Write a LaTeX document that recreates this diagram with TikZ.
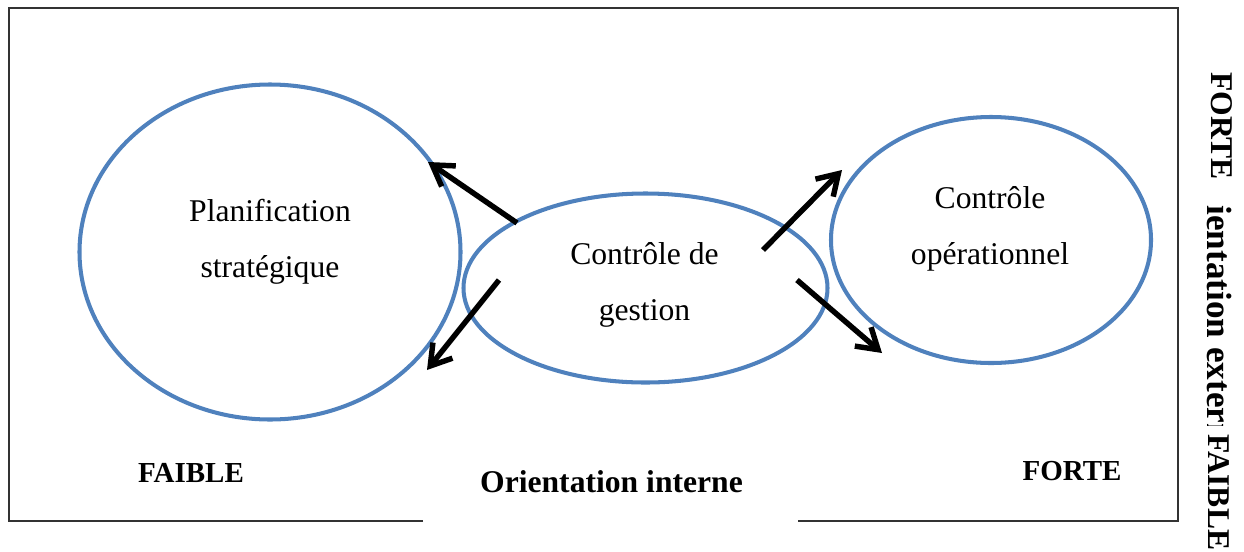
\documentclass[tikz,border=0pt]{standalone}
\usepackage{fontspec}
\setmainfont{Liberation Serif}
\usepackage{tikz}
\usetikzlibrary{shapes,arrows.meta}
\definecolor{officeblue}{HTML}{4F81BD}

\begin{document}
\begin{tikzpicture}
    % Define block styles
    \tikzstyle{zone} = [ellipse, draw=officeblue, line width=2.3pt, inner sep=0pt]
    \tikzstyle{intext} = [align=center, font=\fontsize{18}{32}\selectfont]
    \tikzstyle{axislabel} = [font=\bfseries\fontsize{16.5}{20}\selectfont]
    \tikzstyle{sidelabel} = [rotate=-90, font=\bfseries\fontsize{18}{22}\selectfont]
    \tikzstyle{arrow} = [line width=3.1pt, -{Straight Barb[length=4mm,width=5mm]}]

    \useasboundingbox (0,0) rectangle (24.88,-11.02);

    % Frame, left open at the bottom
    \draw [black!80, line width=0.8pt] (8.46,-10.42) -- (0.18,-10.42) -- (0.18,-0.16)
        -- (23.56,-0.16) -- (23.56,-10.42) -- (15.96,-10.42);

    % Draw nodes
    \node (plan) [zone, minimum width=7.62cm, minimum height=6.70cm] at (5.40,-5.04) {};
    \node (gest) [zone, minimum width=7.28cm, minimum height=3.78cm] at (12.91,-5.76) {};
    \node (oper) [zone, minimum width=6.40cm, minimum height=4.92cm] at (19.82,-4.80) {};

    \node (plantext) [intext] at (5.40,-4.84) {Planification\\stratégique};
    \node (gesttext) [intext] at (12.89,-5.70) {Contrôle de\\gestion};
    \node (opertext) [intext] at (19.80,-4.58) {Contrôle\\opérationnel};

    \node (faible) [axislabel] at (3.82,-9.45) {FAIBLE};
    \node (interne) [axislabel, font=\bfseries\fontsize{18}{22}\selectfont] at (12.23,-9.64) {Orientation interne};
    \node (forte) [axislabel] at (21.44,-9.42) {FORTE};

    \node (forteside) [sidelabel] at (24.44,-2.52) {FORTE};
    \node (faibleside) [sidelabel] at (24.38,-9.85) {FAIBLE};
    \begin{scope}
        \clip (23.90,-4.08) rectangle (24.88,-8.51);
        \node (externe) [sidelabel, font=\bfseries\fontsize{20}{24}\selectfont] at (24.40,-6.21) {Orientation externe};
    \end{scope}

    % Arrow ends
    \coordinate (up1) at (10.34,-4.46);
    \coordinate (up2) at (8.56,-3.24);
    \coordinate (dn1) at (9.98,-5.60);
    \coordinate (dn2) at (8.54,-7.40);
    \coordinate (up3) at (15.26,-5.00);
    \coordinate (up4) at (16.84,-3.40);
    \coordinate (dn3) at (15.94,-5.60);
    \coordinate (dn4) at (17.64,-7.06);

    % Draw edges
    \draw [arrow] (up1) -- (up2);
    \draw [arrow] (dn1) -- (dn2);
    \draw [arrow] (up3) -- (up4);
    \draw [arrow] (dn3) -- (dn4);

\end{tikzpicture}
\end{document}
